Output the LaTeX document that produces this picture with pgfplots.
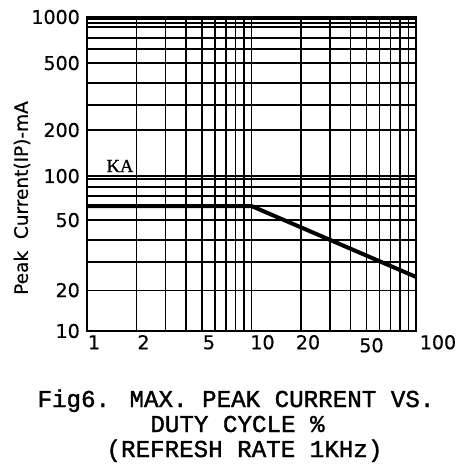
\documentclass[border=0pt]{standalone}
\usepackage{fontspec}
\usepackage{pgfplots}
\pgfplotsset{compat=1.18}
\newfontfamily\tickfont[FakeBold=0.6]{DejaVu Sans}
\newfontfamily\labfont[FakeBold=0.6]{DejaVu Sans}
\newfontfamily\capfont[FakeBold=1.5]{Liberation Mono}
\newfontfamily\kafont[FakeBold=0.8]{Liberation Serif}
\begin{document}
\begin{tikzpicture}[x=1pt,y=1pt]
\useasboundingbox (0,0) rectangle (469,467);
\begin{axis}[
  at={(87pt,136pt)}, anchor=south west,
  scale only axis, width=329pt, height=314pt,
  xmode=log, ymode=log,
  xmin=1, xmax=100, ymin=10, ymax=1000,
  xtick={1,2,5,10,20,50,100},
  xticklabels={1,2,5,{\hspace*{8pt}10},20,{\hspace*{-4pt}\raisebox{-3pt}{50}},{\hspace*{30pt}100}},
  minor xtick={3,4,6,7,8,9,30,40,60,70,80,90},
  ytick={10,18.2,50.9,97,190.6,509,1000},
  yticklabels={10,20,50,100,200,500,1000},
  minor ytick={27.5,38,62.5,72.4,82.6,92.9,275,380,625,735,863,916,971},
  grid=both,
  major grid style={black, line width=1.2pt},
  minor grid style={black, line width=1.2pt},
  major tick length=0pt, minor tick length=0pt,
  axis line style={black, line width=1.3pt},
  tick label style={font=\tickfont\fontsize{19}{19}\selectfont},
  xticklabel style={anchor=north, inner sep=0pt, text height=14pt, text depth=0pt, xshift=7pt, yshift=-4pt},
  yticklabel style={anchor=east, inner sep=0pt, xshift=-7pt},
]
\addplot[black, line width=4pt, line join=round] coordinates {(1,62.5) (10,62.5) (100,22.1)};
\node[font=\kafont\fontsize{18.5}{18.5}\selectfont, inner sep=0pt] at (axis cs:1.587,112.5) {KA};
\end{axis}
\node[rotate=90, font=\labfont\fontsize{18.5}{18.5}\selectfont, inner sep=0pt] at (22,269) {Peak\ \ Current(IP)-mA};
\node[anchor=base, font=\capfont\fontsize{24.2}{24.2}\selectfont, inner sep=0pt] at (236,60) {Fig6. MAX. PEAK CURRENT VS.};
\node[anchor=base, font=\capfont\fontsize{24.2}{24.2}\selectfont, inner sep=0pt] at (237.5,35) {DUTY CYCLE \%};
\node[anchor=base, font=\capfont\fontsize{24.2}{24.2}\selectfont, inner sep=0pt] at (244.5,10) {(REFRESH RATE 1KHz)};
\end{tikzpicture}
\end{document}
